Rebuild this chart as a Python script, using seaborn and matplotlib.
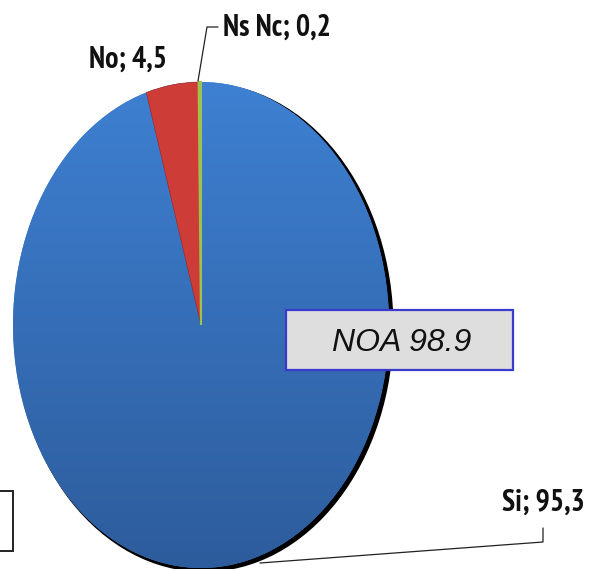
import numpy as np
import matplotlib
matplotlib.use("Agg")
import matplotlib.pyplot as plt
from matplotlib.patches import Ellipse, Rectangle
from matplotlib.lines import Line2D
from matplotlib.colors import LinearSegmentedColormap
from matplotlib.transforms import Affine2D
import seaborn as sns

categories = ["Si", "No", "Ns Nc"]
values = [95.3, 4.5, 0.2]
value_labels = ["95,3", "4,5", "0,2"]
top_colors = ["#3E80D2", "#CE3C38", "#9FC24F"]
bottom_colors = ["#2D5C9C", "#99292A", "#8FAF45"]
box_text = "NOA 98.9"

W, H = 589, 569
CX, CY, RX, RY = 201, 325, 188, 243

sns.set_theme(style="white")
plt.rcParams["font.family"] = ["PT Sans Narrow", "Archivo Narrow", "Liberation Sans", "DejaVu Sans"]

fig = plt.figure(figsize=(W / 100, H / 100), dpi=100, facecolor="white")
ax = fig.add_axes([0, 0, 1, 1])
px = Affine2D().scale(1 / W, -1 / H).translate(0, 1) + fig.transFigure

# drop shadow
ax.add_patch(Ellipse((CX + 3, CY + 2.5), 2 * RX + 3, 2 * RY + 3, transform=px,
                     fc="black", ec="none", zorder=0))

wedges, _ = ax.pie(values, startangle=90, counterclock=False, radius=1,
                   colors=top_colors, wedgeprops=dict(linewidth=0))
ax.set_aspect("auto")

# vertical gradient fill per slice
grad = np.linspace(0, 1, 256).reshape(-1, 1)
for w, c1, c2 in zip(wedges, top_colors, bottom_colors):
    cmap = LinearSegmentedColormap.from_list("g", [c1, c2])
    im = ax.imshow(grad, cmap=cmap, extent=(-1, 1, -1, 1), origin="upper",
                   aspect="auto", zorder=w.get_zorder() + 0.1)
    im.set_clip_path(w)
# thin slice keeps a visible width, as in the reference
wedges[2].set(edgecolor=top_colors[2], linewidth=1.5, zorder=5)
wedges[1].set(edgecolor="#8A2F33", linewidth=0.4, zorder=4)
ax.set_xlim(-CX / RX, (W - CX) / RX)
ax.set_ylim((CY - H) / RY, CY / RY)

# leader lines
for xs, ys in [((198, 207, 218), (81, 27, 27)),
               ((260, 543, 543), (563, 542, 528))]:
    fig.add_artist(Line2D(xs, ys, transform=px, color="#222222", lw=0.9))

# data labels
label_pos = [(543.5, 503), (128, 60), (277, 28)]
for cat, val, (x, y) in zip(categories, value_labels, label_pos):
    fig.text(x, y, f"{cat}; {val}", transform=px, ha="center", va="center",
             fontsize=21.5, fontweight="bold", color="#111111")

# text box
fig.add_artist(Rectangle((286, 310), 227, 60, transform=px, fc="#DEDEDE", ec="#3A3ACC", lw=1.6))
fig.text(401.5, 343, box_text, transform=px, ha="center", va="center", fontsize=23,
         fontstyle="italic", color="#111111",
         family=["Liberation Sans", "DejaVu Sans"])

# clipped box at left edge
fig.add_artist(Rectangle((-6, 491), 19, 60, transform=px, fc="white", ec="#222222", lw=1.4))

fig.savefig("out.png", dpi=100)
